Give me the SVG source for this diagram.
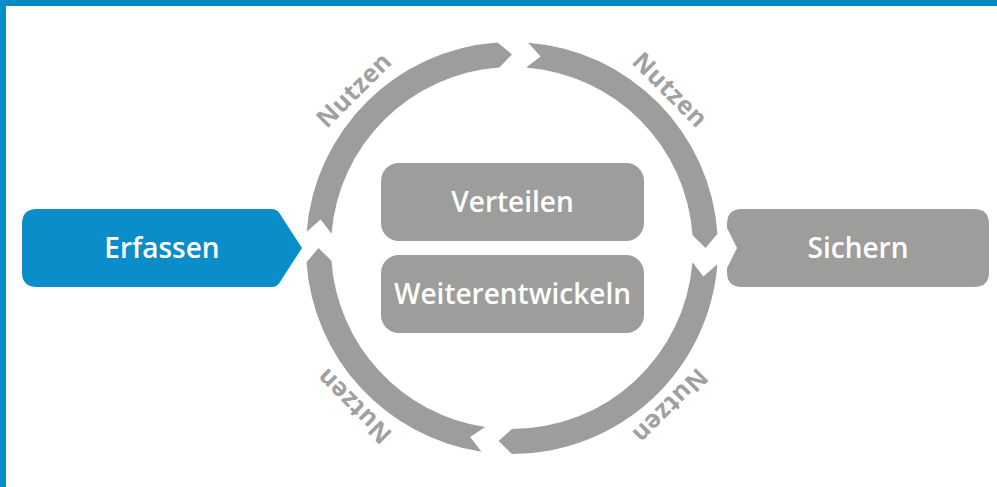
<svg xmlns="http://www.w3.org/2000/svg" width="997" height="487" viewBox="0 0 997 487">
  <style>
    .box { fill: #9d9d9c; }
    .ring { fill: #9d9d9c; }
    .lbl { font-family: "Open Sans", "Liberation Sans", sans-serif; font-weight: 600; font-size: 28px; fill: #ffffff; text-anchor: middle; }
    .nut { font-family: "Open Sans", "Liberation Sans", sans-serif; font-weight: 700; font-size: 25px; fill: #a0a0a0; text-anchor: middle; letter-spacing: 0.5px; }
  </style>
  <rect x="0" y="0" width="997" height="487" fill="#ffffff"/>
  <rect x="0" y="0" width="997" height="6" fill="#058bc2"/>
  <rect x="0" y="0" width="6" height="487" fill="#058fc6"/>

  <g id="connectors">
    <path class="ring" d="M306.63,231.84 A206,206 0 0 1 497.63,42.50 L512,54.5 L499.37,67.44 A181,181 0 0 0 331.56,233.80 L320.62,219.40 Z"/>
    <path class="ring" d="M528.16,42.63 A206,206 0 0 1 717.50,233.63 L705.5,248 L692.56,235.37 A181,181 0 0 0 526.20,67.56 L540.60,56.62 Z"/>
    <path class="ring" d="M717.37,264.16 A206,206 0 0 1 512,454 L498.50,441.03 L512,429 A181,181 0 0 0 692.44,262.20 L703.38,276.60 Z"/>
    <path class="ring" d="M481.55,451.74 A206,206 0 0 1 306.50,262.37 L318.5,248 L331.44,260.63 A181,181 0 0 0 485.25,427.01 L470.12,436.91 Z"/>
    <text class="nut" transform="translate(512,248) rotate(-45) translate(0,-215)">Nutzen</text>
    <text class="nut" transform="translate(512,248) rotate(45) translate(0,-215)">Nutzen</text>
    <text class="nut" transform="translate(512,248) rotate(135) translate(0,-215)">Nutzen</text>
    <text class="nut" transform="translate(512,248) rotate(-135) translate(0,-215)">Nutzen</text>
  </g>

  <g id="erfassen">
    <path d="M37,209 L272,209 Q276,209 279,212.5 L302,248 L279,283.5 Q276,287 272,287 L37,287 Q22,287 22,272 L22,224 Q22,209 37,209 Z" fill="#0a8dc8"/>
    <text class="lbl" x="162" y="258">Erfassen</text>
  </g>

  <g id="sichern">
    <path d="M742,209 L974,209 Q989,209 989,224 L989,272 Q989,287 974,287 L742,287 Q727,287 727,272 L727,268 L737,248 L727,228 L727,224 Q727,209 742,209 Z" class="box"/>
    <text class="lbl" x="858" y="258">Sichern</text>
  </g>

  <g id="verteilen">
    <rect x="381" y="163" width="263" height="78" rx="18" class="box"/>
    <text class="lbl" x="512.5" y="212">Verteilen</text>
  </g>

  <g id="weiterentwickeln">
    <rect x="381" y="255" width="263" height="78" rx="18" class="box"/>
    <text class="lbl" x="512.5" y="304">Weiterentwickeln</text>
  </g>
</svg>
